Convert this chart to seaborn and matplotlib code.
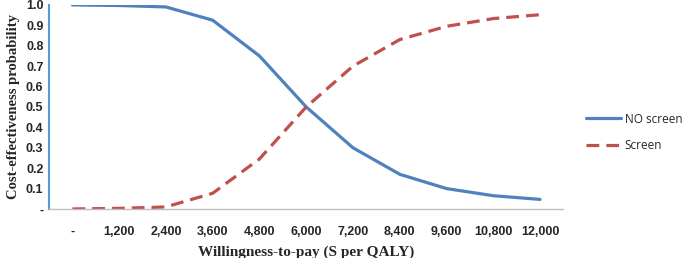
import matplotlib
matplotlib.use("Agg")
import matplotlib.pyplot as plt
import seaborn as sns
import pandas as pd
import numpy as np

# willingness-to-pay categories
wtp_labels = ["-", "1,200", "2,400", "3,600", "4,800", "6,000",
              "7,200", "8,400", "9,600", "10,800", "12,000"]
no_screen = [1.0, 0.997, 0.99, 0.925, 0.75, 0.50, 0.30, 0.17, 0.10, 0.065, 0.047]
screen = [0.0, 0.003, 0.01, 0.077, 0.245, 0.50, 0.70, 0.83, 0.895, 0.933, 0.952]
y_labels = ["-", "0.1", "0.2", "0.3", "0.4", "0.5", "0.6", "0.7", "0.8", "0.9", "1.0"]

sns.set_style("white")

df = pd.DataFrame({"wtp": wtp_labels, "NO screen": no_screen, "Screen": screen})
long = df.melt(id_vars="wtp", var_name="strategy", value_name="prob")

fig = plt.figure(figsize=(6.85, 2.58), dpi=100)
ax = fig.add_axes([0.0715, 0.19, 0.751, 0.791])

sns.lineplot(data=long, x="wtp", y="prob", hue="strategy", style="strategy",
             palette={"NO screen": "#4F81BD", "Screen": "#C0504D"},
             dashes={"NO screen": "", "Screen": (4, 2.2)},
             linewidth=2.3, ax=ax, sort=False)

ax.set_xlim(-0.5, len(wtp_labels) - 0.5)
ax.set_ylim(0, 1.0)
ax.set_yticks(np.arange(0, 1.01, 0.1))
ax.set_yticklabels(y_labels, fontsize=9, fontweight="bold", family="Liberation Sans")
ax.set_xticks(range(len(wtp_labels)))
ax.set_xticklabels(wtp_labels, fontsize=9, fontweight="bold", family="Liberation Sans")
ax.set_xticks(np.arange(-0.5, len(wtp_labels), 1), minor=True)
ax.tick_params(axis="x", which="major", length=0, pad=12)
ax.tick_params(axis="x", which="minor", length=5, color="#BFBFBF", direction="out")
ax.tick_params(axis="y", length=0, pad=4)

for s in ["top", "right"]:
    ax.spines[s].set_visible(False)
ax.spines["left"].set_color("#5B9BD5")
ax.spines["left"].set_linewidth(1.5)
ax.spines["bottom"].set_color("#BFBFBF")
ax.spines["bottom"].set_linewidth(1)

ax.set_xlabel("Willingness-to-pay (S per QALY)", fontsize=11, fontweight="bold",
              family="Liberation Serif", labelpad=6)
ax.set_ylabel("Cost-effectiveness probability", fontsize=10.5, fontweight="bold",
              family="Liberation Serif", labelpad=4)

handles, labels = ax.get_legend_handles_labels()
ax.get_legend().remove()
fig.legend(handles, labels, loc="center left", bbox_to_anchor=(0.855, 0.487),
           frameon=False, handlelength=3.0, labelspacing=1.15, handletextpad=0.3,
           borderpad=0, borderaxespad=0,
           prop={"family": "Open Sans", "size": 8.5})

fig.savefig("out.png", dpi=100)
